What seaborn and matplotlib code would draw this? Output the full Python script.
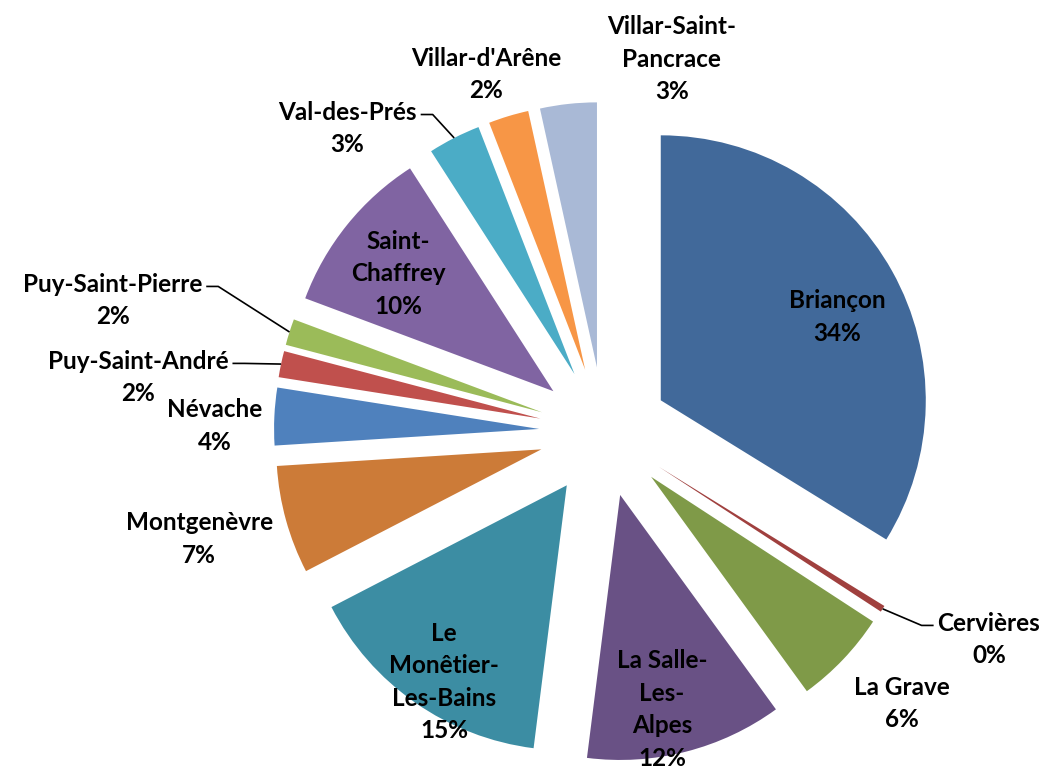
import matplotlib
matplotlib.use("Agg")
import numpy as np
import seaborn as sns
import matplotlib.pyplot as plt

# data
communes = ["Briançon", "Cervières", "La Grave", "La Salle-Les-Alpes",
            "Le Monêtier-Les-Bains", "Montgenèvre", "Névache", "Puy-Saint-André",
            "Puy-Saint-Pierre", "Saint-Chaffrey", "Val-des-Prés",
            "Villar-d'Arêne", "Villar-Saint-Pancrace"]
etiquettes = ["Briançon", "Cervières", "La Grave", "La Salle-\nLes-\nAlpes",
              "Le\nMonêtier-\nLes-Bains", "Montgenèvre", "Névache", "Puy-Saint-André",
              "Puy-Saint-Pierre", "Saint-\nChaffrey", "Val-des-Prés",
              "Villar-d'Arêne", "Villar-Saint-\nPancrace"]
valeurs = [33.8, 0.4, 5.8, 12.0, 15.4, 6.6, 3.5, 1.6, 1.6, 10.2, 3.2, 2.45, 3.45]

couleurs = ["#41699a", "#a0403e", "#7f9a48", "#695185", "#3c8da3", "#cc7b38",
            "#4f81bd", "#c0504d", "#9bbb59", "#8064a2", "#4bacc6", "#f79646",
            "#a9b9d6"]

# label placement (polar, in pie radius units) and which ones get a leader line
lab_r = [0.98, 1.65, 1.52, 1.07, 1.12, 1.58, 1.47, 1.77, 1.92, 0.98, 1.50, 1.42, 1.43]
lab_ang = [26.3, -28.3, -42.4, -78.2, 237.4, 194.8, 179.1, 173.3, 165.0, 142.4,
           130.2, 108.3, 79.7]
avec_trait = ["Cervières", "Puy-Saint-André", "Puy-Saint-Pierre", "Val-des-Prés"]

sns.set_theme(style="white")
plt.rcParams["font.family"] = ["Lato", "DejaVu Sans"]

W, H = 1041, 773
R = 265.0            # pie radius in pixels
cx, cy = 600, 428    # pie centre in pixels (from top)

fig = plt.figure(figsize=(W / 100, H / 100), dpi=100)
ax = fig.add_axes([0, 0, 1, 1])

wedges, _ = ax.pie(valeurs, colors=couleurs, startangle=90, counterclock=False,
                   explode=[65 / R] * len(valeurs), radius=1, center=(0, 0),
                   wedgeprops=dict(linewidth=0))
ax.set_aspect("auto")
ax.set_xlim(-(cx + 4) / R, (W - cx - 4) / R)
ax.set_ylim(-(H - cy - 4) / R, (cy + 4) / R)
ax.axis("off")

textes = []
for i, w in enumerate(wedges):
    pct = int(valeurs[i] / sum(valeurs) * 100 + 0.5)
    a = np.deg2rad(lab_ang[i])
    t = ax.text(lab_r[i] * np.cos(a), lab_r[i] * np.sin(a),
                f"{etiquettes[i]}\n{pct}%", ha="center", va="center",
                fontsize=17.5, fontweight="bold", color="black", linespacing=1.5)
    textes.append(t)

fig.canvas.draw()
renderer = fig.canvas.get_renderer()
inv = ax.transData.inverted()
for i, w in enumerate(wedges):
    if communes[i] not in avec_trait:
        continue
    mid = np.deg2rad((w.theta1 + w.theta2) / 2)
    x0 = w.center[0] + w.r * np.cos(mid)
    y0 = w.center[1] + w.r * np.sin(mid)
    bb = textes[i].get_window_extent(renderer).transformed(inv)
    ty = bb.y1 - bb.height / 4
    gap = 4 / R
    if bb.x0 > x0:
        xe = bb.x0 - gap
        xk = xe - 12 / R
    else:
        xe = bb.x1 + gap
        xk = xe + 12 / R
    ax.plot([x0, xk, xe], [y0, ty, ty], color="black", lw=1.2,
            solid_capstyle="butt")

fig.savefig("out.png", dpi=100)
